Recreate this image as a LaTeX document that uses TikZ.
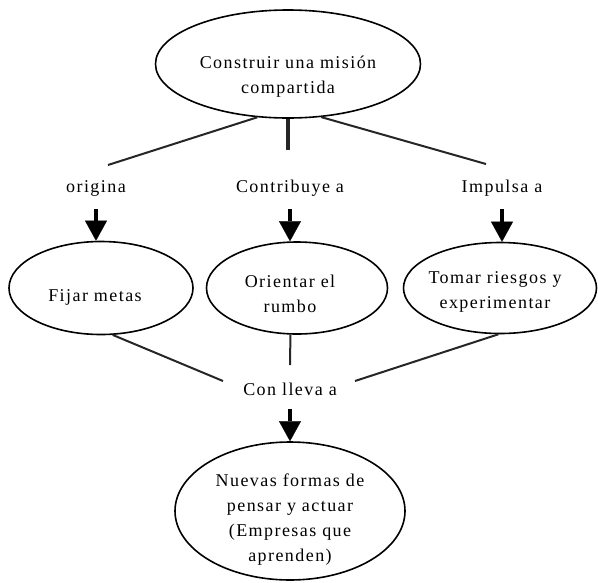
\documentclass[tikz,border=0pt]{standalone}
\usepackage{fontspec}
\setmainfont{Liberation Serif}[LetterSpace=8]
\usetikzlibrary{arrows.meta,shapes.geometric}

\begin{document}
\begin{tikzpicture}[x=1pt, y=-1pt,
    idea/.style={ellipse, draw, line width=1.6pt, inner sep=0pt},
    texto/.style={align=center, font=\fontsize{18}{25}\selectfont, inner sep=0pt},
    enlace/.style={line width=2pt, black!85},
    flecha/.style={line width=3.5pt, shorten <=\gap pt,
      -{Triangle[width=22pt, length=20pt, line width=0.1pt]}}]
  % Sizes
  \pgfmathsetmacro{\gap}{13}
  \useasboundingbox (0,0) rectangle (598,582);

  % vertices
  \node[idea, minimum width=265pt, minimum height=108pt] (mision) at (288,64) {};
  \node[idea, minimum width=184pt, minimum height=93pt] (metas) at (101,288) {};
  \node[idea, minimum width=181pt, minimum height=92pt] (rumbo) at (297,288) {};
  \node[idea, minimum width=193pt, minimum height=91pt] (riesgos) at (500,288) {};
  \node[idea, minimum width=230pt, minimum height=138pt] (nuevas) at (290,511) {};

  % free ends of the lines
  \coordinate (c1) at (108,165);
  \coordinate (c2) at (288,150);
  \coordinate (c3) at (486,164);
  \coordinate (c4) at (223,381);
  \coordinate (c5) at (290,365);
  \coordinate (c6) at (355,381);

  % texts in the ellipses
  \node[texto] (t-mision) at (288,77) {Construir una misión\\compartida};
  \node[texto] (t-metas) at (95,297) {Fijar metas};
  \node[texto] (t-rumbo) at (290,294) {Orientar el\\rumbo};
  \node[texto] (t-riesgos) at (495,292) {Tomar riesgos y\\experimentar};
  \node[texto] (t-nuevas) at (290,520) {Nuevas formas de\\pensar y actuar\\(Empresas que\\aprenden)};

  % labels
  \node[texto] (origina) at (96,188) {origina};
  \node[texto] (contribuye) at (290,188) {Contribuye a};
  \node[texto] (impulsa) at (502,188) {Impulsa a};
  \node[texto] (conlleva) at (290,389) {Con lleva a};

  % lines
  \draw[enlace] (mision.240) -- (c1);
  \draw[enlace, line width=3.5pt] (mision.south) -- (c2);
  \draw[enlace] (mision.302) -- (c3);
  \draw[enlace] (metas.284) -- (c4);
  \draw[enlace] (rumbo.262) -- (c5);
  \draw[enlace] (riesgos.268) -- (c6);

  % arrows
  \draw[flecha] (origina) -- (origina |- metas.north);
  \draw[flecha] (contribuye) -- (contribuye |- rumbo.north);
  \draw[flecha] (impulsa) -- (impulsa |- riesgos.north);
  \draw[flecha] (conlleva) -- (conlleva |- nuevas.north);
\end{tikzpicture}
\end{document}
